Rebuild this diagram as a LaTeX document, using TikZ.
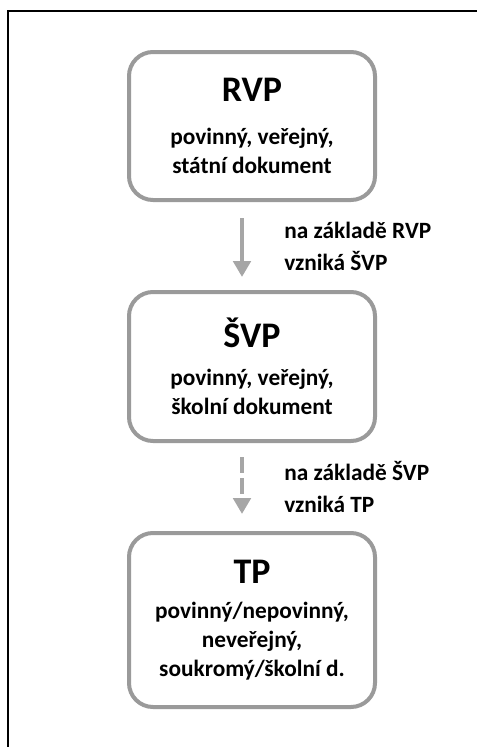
\documentclass[tikz,border=0pt]{standalone}
\usepackage{fontspec}
\setmainfont{Carlito}
\usetikzlibrary{arrows.meta,positioning}
\definecolor{boxgray}{HTML}{9A9A9A}
\definecolor{arrowgray}{HTML}{A6A6A6}
\tikzset{
    x=0.75pt,y=-0.75pt,node distance =66pt and 1cm,
    doc/.style ={draw=boxgray, line width=3pt, rounded corners=18pt,
        minimum width=184.5pt, align=center, inner sep=0pt,
        font=\bfseries\fontsize{17.5}{21.75}\selectfont},
    flow/.style={-{Triangle[width=13pt,length=12pt]}, draw=arrowgray,
        line width=3.5pt},
    note/.style = {anchor=west, inner sep=0pt, xshift=30pt, align=left,
        font=\bfseries\fontsize{17.5}{24}\selectfont}
}
\newcommand{\doctitle}[2][5pt]{{\fontsize{27}{27}\selectfont #2}\\[#1]}

\begin{document}
\begin{tikzpicture}
    \useasboundingbox (0,0) rectangle (477,747);
    % frame
    \draw[line width=1.5pt] (8,747) -- (8,11) -- (477,11);

    %%Nodes
    \node[doc, minimum height=111pt] (rvp) at (252,126)
        {\doctitle[10pt]{RVP}povinný, veřejný,\\státní dokument};
    \node[doc, minimum height=111.75pt] (svp) [below =of rvp]
        {\doctitle[7pt]{ŠVP}povinný, veřejný,\\školní dokument};
    \node[doc, minimum height=130.5pt] (tp) [below =of svp]
        {\doctitle{TP}povinný/nepovinný,\\neveřejný,\\soukromý/školní d.};

    % Directed edges
    \draw[flow, shorten <=12pt, shorten >=9.75pt]
        ([xshift=-7.5pt]rvp.south) -- node[note] {na základě RVP\\vzniká ŠVP}
        ([xshift=-7.5pt]svp.north);
    \draw[flow, dash pattern=on 12pt off 4pt, shorten <=10.5pt, shorten >=12.75pt]
        ([xshift=-7.5pt]svp.south) -- node[note] {na základě ŠVP\\vzniká TP}
        ([xshift=-7.5pt]tp.north);
\end{tikzpicture}
\end{document}
